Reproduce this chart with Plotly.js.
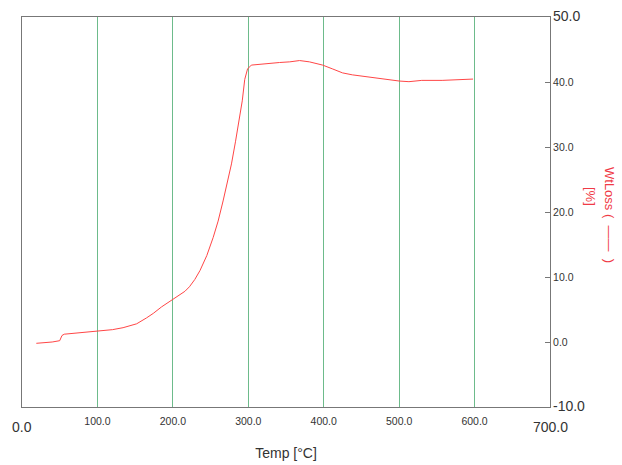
<!DOCTYPE html>
<html>
<head>
<meta charset="utf-8">
<script src="https://cdn.plot.ly/plotly-3.0.1.min.js"></script>
<style>html,body{margin:0;padding:0;background:#fff;}#chart{width:622px;height:465px;}</style>
</head>
<body>
<div id="chart"></div>
<script>
var temp = [19, 30, 40, 50, 53, 56, 65, 80, 100, 120, 134, 145, 152, 165, 174, 185, 198, 209, 216, 222, 229, 236, 245, 253.5, 260, 266.6, 272, 277.7, 283, 288, 292, 295.3, 299, 304, 319.5, 341.5, 355, 368, 381, 398.6, 412, 425, 438, 451, 478, 500, 513, 530, 557, 583, 598];
var wtloss = [-0.2, -0.1, 0.0, 0.2, 1.0, 1.2, 1.3, 1.5, 1.65, 1.9, 2.2, 2.5, 2.8, 3.7, 4.4, 5.4, 6.4, 7.2, 7.8, 8.5, 9.6, 11.0, 13.3, 16.1, 18.6, 21.7, 24.4, 27.4, 30.8, 34.0, 37.1, 40.4, 42.0, 42.6, 42.8, 43.0, 43.1, 43.3, 43.1, 42.6, 42.0, 41.4, 41.1, 40.9, 40.4, 40.15, 40.05, 40.25, 40.25, 40.35, 40.45];

var xTickVals = [100, 200, 300, 400, 500, 600];
var xTickText = ["100.0", "200.0", "300.0", "400.0", "500.0", "600.0"];
var xEndVals = [0, 700];
var xEndText = ["0.0", "700.0"];
var yTickVals = [0, 10, 20, 30, 40];
var yTickText = ["0.0", "10.0", "20.0", "30.0", "40.0"];
var yEndVals = [-10, 50];
var yEndText = ["-10.0", "50.0"];

var FONT = "Liberation Sans, Arial, sans-serif";
var axisColor = "#777777";
var red = "#f03a46";

var annotations = [];
xEndVals.forEach(function(v, i){
  annotations.push({x: v, y: 0, xref: "x", yref: "paper", text: xEndText[i], showarrow: false,
    xanchor: "center", yanchor: "top", yshift: -10, font: {family: FONT, size: 14, color: "#333"}});
});
yEndVals.forEach(function(v, i){
  annotations.push({x: 1, y: v, xref: "paper", yref: "y", text: yEndText[i], showarrow: false,
    xanchor: "left", yanchor: "middle", xshift: 1, yshift: 1, font: {family: FONT, size: 14, color: "#333"}});
});
annotations.push({x: 1, y: 0.5, xref: "paper", yref: "paper", text: "WtLoss (  ——  )", showarrow: false,
  textangle: 90, xanchor: "center", yanchor: "middle", xshift: 60, yshift: -3, font: {family: FONT, size: 13, color: red}});
annotations.push({x: 1, y: 0.5, xref: "paper", yref: "paper", text: "[%]", showarrow: false,
  textangle: 90, xanchor: "center", yanchor: "middle", xshift: 41, yshift: 16, font: {family: FONT, size: 13, color: red}});

var data = [{
  x: temp, y: wtloss, type: "scatter", mode: "lines",
  line: {color: "#ff4646", width: 1}, hoverinfo: "none", showlegend: false
}];

var layout = {
  width: 622, height: 465,
  margin: {l: 22, r: 72, t: 17, b: 58},
  paper_bgcolor: "#fff", plot_bgcolor: "#fff",
  font: {family: FONT, color: "#333"},
  showlegend: false,
  xaxis: {
    range: [0, 700], tickmode: "array", tickvals: xTickVals, ticktext: xTickText,
    showgrid: true, gridcolor: "#6dbb8b", gridwidth: 1, zeroline: false,
    showline: true, linecolor: axisColor, linewidth: 1, mirror: true,
    ticks: "", ticklabelstandoff: 4, tickfont: {family: FONT, size: 10.5, color: "#333"},
    title: {text: "Temp [°C]", font: {family: FONT, size: 14, color: "#333"}, standoff: 22}
  },
  yaxis: {
    range: [-10, 50], side: "right", tickmode: "array", tickvals: yTickVals, ticktext: yTickText,
    showgrid: false, zeroline: false,
    showline: true, linecolor: axisColor, linewidth: 1, mirror: true,
    ticks: "inside", ticklen: 5, tickcolor: axisColor,
    tickfont: {family: FONT, size: 10.5, color: "#333"}
  },
  annotations: annotations
};

Plotly.newPlot("chart", data, layout, {staticPlot: true});
</script>
</body>
</html>
